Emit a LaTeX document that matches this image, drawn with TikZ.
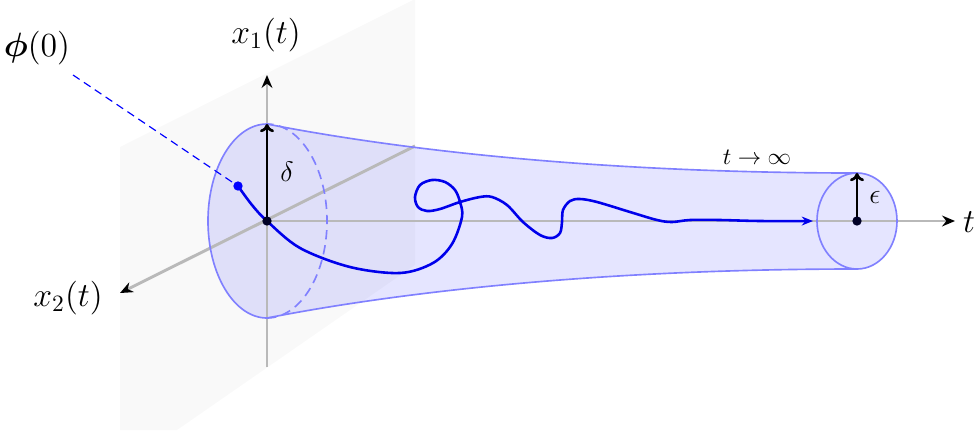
\documentclass[tikz,border=0pt]{standalone}
\usepackage{bm}
\usetikzlibrary{arrows.meta}
\begin{document}
\begin{tikzpicture}[x=0.15mm,y=-0.15mm,
  axisline/.style={gray!55, line width=1.25pt, -{Stealth[black,length=5.5pt,width=4.6pt]}},
  tubefill/.style={fill=blue, fill opacity=0.1},
  tubeline/.style={blue!50, line width=0.7pt},
  traj/.style={blue!92!black, line width=1.1pt},
  radarrow/.style={black, line width=1.15pt, -{To[length=3.5pt,width=6pt]}},
  lab/.style={inner sep=0pt}]
\useasboundingbox (0,0) rectangle (975,430);
\clip (0,0) rectangle (975,430);
% plane
\fill[gray!5] (120,147) -- (415,-1) -- (415,265) -- (177,430) -- (120,430) -- cycle;
% coordinates
\coordinate (O) at (267,221);
\coordinate (E) at (857,221);
\coordinate (Ltop) at (267,124);
\coordinate (Lbot) at (267,318);
\coordinate (Rtop) at (857,173);
\coordinate (Rbot) at (857,269);
\coordinate (x1end) at (267,75);
\coordinate (x1beg) at (267,367);
\coordinate (x2end) at (120,293);
\coordinate (x2beg) at (415,146);
\coordinate (tend) at (955,221);
\coordinate (P0) at (238,186);
\coordinate (ds) at (73,75);
% tube fill
\fill[tubefill] (Ltop) .. controls (400,150) and (600,173) .. (Rtop)
  arc[start angle=90, end angle=-90, x radius=6mm, y radius=7.2mm]
  .. controls (600,269) and (400,292) .. (Lbot)
  arc[start angle=270, end angle=90, x radius=8.85mm, y radius=14.55mm] -- cycle;
% axes
\draw[axisline] (x1beg) -- (x1end);
\draw[axisline] (x2beg) -- (x2end);
\draw[axisline] (O) -- (tend);
% tube outline
\draw[tubeline] (Ltop) .. controls (400,150) and (600,173) .. (Rtop);
\draw[tubeline] (Lbot) .. controls (400,292) and (600,269) .. (Rbot);
\draw[tubeline] (Ltop) arc[start angle=90, end angle=270, x radius=8.85mm, y radius=14.55mm];
\draw[tubeline, dash pattern=on 4pt off 2.5pt] (Lbot) arc[start angle=-90, end angle=90, x radius=9mm, y radius=14.55mm];
\draw[tubeline] (E) ellipse [x radius=6mm, y radius=7.2mm];
% dashed line to phi(0)
\draw[blue, line width=0.5pt, dash pattern=on 3.4pt off 2.2pt] (ds) -- (P0);
% trajectory
\draw[traj, -{Stealth[length=4.8pt,width=3.8pt]}] plot[smooth, tension=0.55] coordinates {
 (238,186) (252,205) (267,221) (300,248) (350,267) (400,273) (433,263) (452,244)
 (462,217) (460,202) (455,190) (445,182) (432,180) (420,185) (415,197) (418,207)
 (427,211) (440,209) (460,202) (480,197) (492,197) (507,205) (523,222) (540,235)
 (552,238) (560,233) (562,222) (563,210) (570,201) (580,199) (597,202) (630,212)
 (657,220) (672,222) (690,220) (720,220) (760,221) (813,221)};
% radius arrows
\draw[radarrow] (O) -- (Ltop);
\draw[radarrow] (E) -- (Rtop);
% dots
\fill[blue] (P0) circle (0.7mm);
\fill[black!85!blue] (O) circle (0.7mm);
\fill[black!85!blue] (E) circle (0.7mm);
% labels
\node[lab] (lx1) at (266,35) {\Large $x_1(t)$};
\node[lab] (lx2) at (68,298) {\Large $x_2(t)$};
\node[lab] (lt) at (969,222) {\Large $t$};
\node[lab] (lphi) at (37,48) {\Large $\bm{\phi}(0)$};
\node[lab] (ldelta) at (287,172) {\large $\delta$};
\node[lab] (leps) at (875,197) {\large $\epsilon$};
\node[lab] (linf) at (757,157) {$t\to\infty$};
\end{tikzpicture}
\end{document}
